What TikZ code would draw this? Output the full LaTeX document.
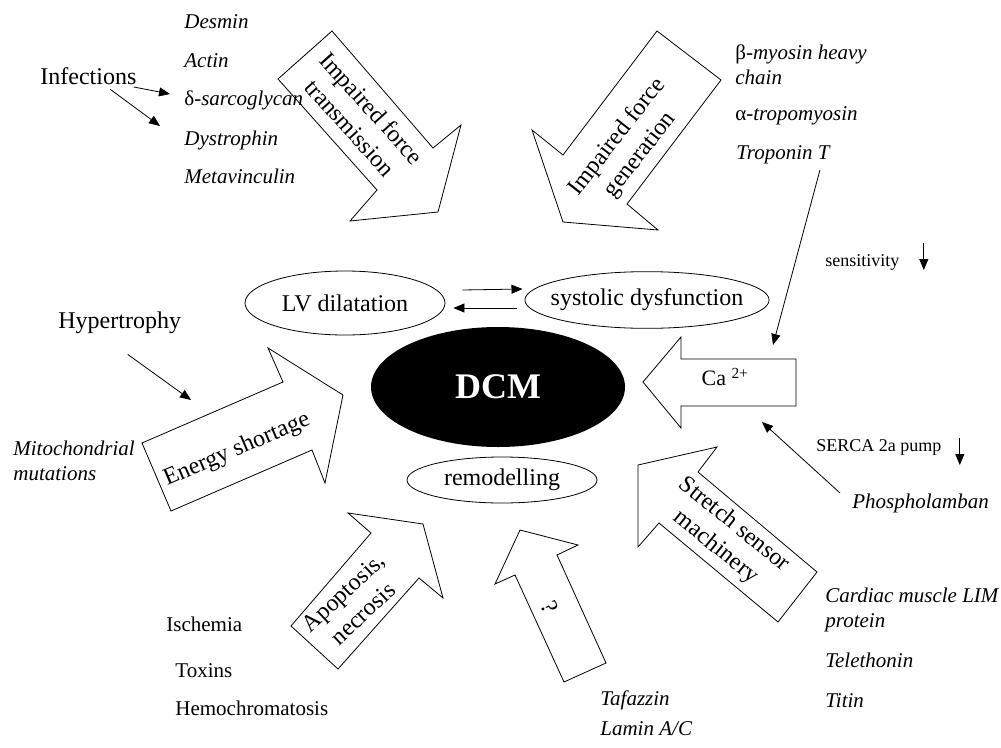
\documentclass[tikz,border=0pt]{standalone}
\usepackage{fontspec}
\setmainfont{Liberation Serif}
\usetikzlibrary{shapes.geometric,arrows.meta}
\begin{document}
\begin{tikzpicture}
  [x=1pt,y=-1pt,line width=0.8pt,
   every node/.style={inner sep=0pt},
   italic/.style={font=\fontsize{21}{25}\selectfont\itshape},
   gene/.style={italic,anchor=west,text height=15pt,text depth=4pt},
   cause/.style={anchor=west,font=\fontsize{21}{25}\selectfont,text height=15pt,text depth=4pt},
   big/.style={anchor=west,font=\fontsize{24}{28}\selectfont,text height=17pt,text depth=5pt},
   small/.style={anchor=west,font=\fontsize{18}{22}\selectfont,text height=13pt,text depth=4pt},
   state/.style={ellipse,draw,font=\fontsize{24}{28}\selectfont},
   block/.style={draw,fill=white,line join=miter},
   blocktext/.style={font=\fontsize{24}{29}\selectfont,align=center},
   tip/.style={-{Triangle[length=11pt,width=9pt]}}]

  \useasboundingbox (0,0) rectangle (1001,747);

  % block arrows
  \draw[block] (332,31) -- (433,148) -- (461,125) -- (438,212) -- (350,221) -- (377,190) -- (278,79) -- cycle;
  \draw[block] (657,31) -- (721,80) -- (627,204) -- (658,230) -- (563,222) -- (532,130) -- (563,155) -- cycle;
  \draw[block] (142,443) -- (283,382) -- (268,348) -- (343,395) -- (325,483) -- (312,450) -- (171,511) -- cycle;
  \draw[block] (643,382) -- (681,337) -- (681,359) -- (796,359) -- (796,406) -- (681,406) -- (681,428) -- cycle;
  \draw[block] (638,465) -- (717,447) -- (698,472) -- (817,572) -- (778,622) -- (659,523) -- (638,547) -- cycle;
  \draw[block] (348,513) -- (423,524) -- (443,598) -- (419,578) -- (338,669) -- (291,626) -- (371,533) -- cycle;
  \draw[block] (520,530) -- (578,545) -- (557,555) -- (606,663) -- (564,682) -- (515,575) -- (495,584) -- cycle;

  \node[blocktext,rotate=-48] (transmission) at (361,118) {Impaired force\\transmission};
  \node[blocktext,rotate=52] (generation) at (629,146) {Impaired force\\generation};
  \node[blocktext,rotate=23] (energy) at (237,450) {Energy shortage};
  \node[blocktext,font=\fontsize{22}{26}\selectfont] (calcium) at (725,377) {Ca \textsuperscript{2+}};
  \node[blocktext,rotate=-39] (stretch) at (725,536) {Stretch sensor\\machinery};
  \node[blocktext,rotate=43] (apoptosis) at (353,603) {Apoptosis,\\necrosis};
  \node[blocktext,rotate=-66] (unknown) at (550,607) {?};

  % states round DCM
  \node[state,minimum width=200pt,minimum height=64pt] (lv) at (345,303) {LV dilatation};
  \node[state,inner xsep=-10pt,inner ysep=9pt] (sys) at (647,300) {systolic dysfunction};
  \node[state,minimum width=190pt,minimum height=46pt] (remod) at (502,480) {remodelling};
  \node[ellipse,fill=black,text=white,minimum width=254pt,minimum height=120pt,
        font=\fontsize{36}{40}\selectfont\bfseries] (dcm) at (498,387) {DCM};

  \draw[tip] ([xshift=17pt,yshift=13pt]lv.east) -- ([xshift=-2pt,yshift=11pt]sys.west);
  \draw[tip] ([xshift=-8pt,yshift=-8pt]sys.west) -- ([xshift=8pt,yshift=-5pt]lv.east);

  % genes and causes
  \foreach \name/\y/\txt in {desmin/23/Desmin, actin/62/Actin,
      sarco/100/{{\upshape δ}-sarcoglycan}, dystro/140/Dystrophin, meta/178/Metavinculin}
    \node[gene] (\name) at (184,\y) {\txt};

  \node[italic,align=left,anchor=north west] (myosin) at (735,44) {{\upshape β}-myosin heavy\\chain};
  \node[gene] (tropo) at (735,115) {{\upshape α}-tropomyosin};
  \node[gene] (tropt) at (736,154) {Troponin T};
  \node[gene] (phospho) at (852,503) {Phospholamban};
  \node[italic,align=left,anchor=north west] (lim) at (825,588) {Cardiac muscle LIM\\protein};
  \node[gene] (teleth) at (825,662) {Telethonin};
  \node[gene] (titin) at (825,702) {Titin};
  \node[gene] (tafaz) at (600,700) {Tafazzin};
  \node[gene] (lamin) at (600,730) {Lamin A/C};
  \node[italic,align=left,anchor=north west] (mito) at (13,441) {Mitochondrial\\mutations};

  \foreach \name/\x/\y/\txt in {ischemia/166/626/Ischemia, toxins/175/672/Toxins,
      hemo/175/710/Hemochromatosis}
    \node[cause] (\name) at (\x,\y) {\txt};

  \node[big] (infect) at (40,78) {Infections};
  \node[big] (hyper) at (58,322) {Hypertrophy};
  \node[small] (sens) at (825,262) {sensitivity};
  \node[small] (serca) at (816,447) {SERCA 2a pump};

  \coordinate (energy n) at (191,400);
  \coordinate (ca n) at (773,345);
  \coordinate (ca s) at (762,422);

  \draw[tip] ([xshift=-3pt,yshift=-9pt]infect.east) -- ([xshift=-14pt,yshift=6pt]sarco.west);
  \draw[tip] ([xshift=22pt]infect.south) -- ([xshift=-24pt,yshift=14pt]dystro.west);
  \draw[tip] ([xshift=8pt,yshift=-21pt]hyper.south) -- (energy n);
  \draw[tip] ([xshift=-10pt,yshift=-6pt]tropt.south east) -- (ca n);
  \draw[tip] ([xshift=-12pt,yshift=10pt]phospho.west) -- (ca s);
  \draw[tip] ([xshift=24pt,yshift=19pt]sens.east) -- ([xshift=24pt,yshift=-8pt]sens.east);
  \draw[tip] ([xshift=18pt,yshift=9pt]serca.east) -- ([xshift=18pt,yshift=-18pt]serca.east);

\end{tikzpicture}
\end{document}
